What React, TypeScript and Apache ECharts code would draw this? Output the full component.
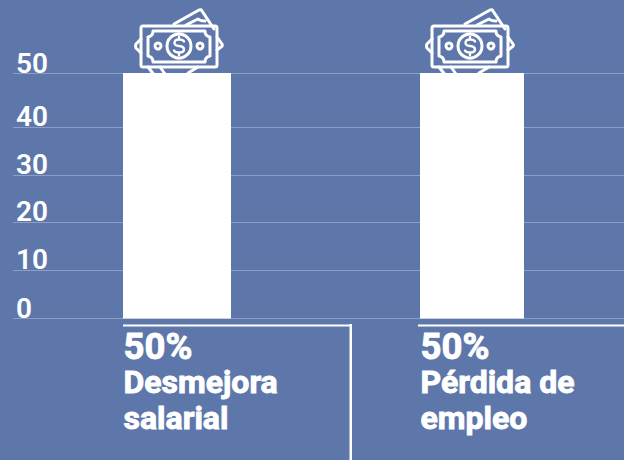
import React, { useEffect, useRef } from "react";
import * as echarts from "echarts";

const categories = ["Desmejora salarial", "Pérdida de empleo"];
const valuesA = [50, null];
const valuesB = [null, 50];
const tickLabels = [0, 10, 20, 30, 40, 50];
// the reference's gridlines are not evenly spaced: where each tick label sits on the 0-50 scale
const tickPlaces = [0, 9.8, 19.6, 29.2, 39, 50];
const labelLines = [
  ["50%", "Desmejora", "salarial"],
  ["50%", "Pérdida de", "empleo"],
];

const BG = "#5E77AA";
const WHITE = "#ffffff";

const backBills =
  "M174 24 L199 10 Q201 9 202 11 L214 29 M217 37 L222 44 Q223 46 221 47 L217 50 M141 39 L136 44 Q135 46 136 48 L141 53 M148 67 L155 76 M160 67 L165 74 M205 21 Q200 21 198 19 L186 25 M198 67 L188 73";
const frontBill = "M143 26 H215 Q217 26 217 28 V65 Q217 67 215 67 H143 Q141 67 141 65 V28 Q141 26 143 26 Z";
const innerFrame =
  "M153 31 H205 Q205 36 210 37 V56 Q205 57 205 62 H153 Q153 57 148 56 V37 Q153 36 153 31 Z";
const dollar =
  "M184 41.5 Q183 39.5 179 39.5 Q174.5 39.5 174.5 43 Q174.5 45.5 179 46 Q184 46.5 184 49.5 Q184 52.5 179 52.5 Q175 52.5 174 50.5 M179 37 V39.5 M179 52.5 V55";

echarts.graphic.registerShape("billBack", echarts.graphic.extendPath(backBills, {}) as any);
echarts.graphic.registerShape("billFront", echarts.graphic.extendPath(frontBill, {}) as any);
echarts.graphic.registerShape("billInner", echarts.graphic.extendPath(innerFrame, {}) as any);
echarts.graphic.registerShape("billDollar", echarts.graphic.extendPath(dollar, {}) as any);

function icon(dx: number) {
  const line = { fill: "none", stroke: WHITE, lineWidth: 3, lineJoin: "round", lineCap: "round" };
  return {
    type: "group",
    z: 1,
    children: [
      { type: "billBack", x: dx, y: 0, style: line },
      { type: "billFront", x: dx, y: 0, style: line },
      { type: "billInner", x: dx, y: 0, style: line },
      { type: "billDollar", x: dx, y: 0, style: { ...line, lineWidth: 2.4 } },
      { type: "circle", shape: { cx: 179 + dx, cy: 46, r: 12 }, style: line },
      { type: "circle", shape: { cx: 158 + dx, cy: 46, r: 3 }, style: line },
      { type: "circle", shape: { cx: 200 + dx, cy: 46, r: 3 }, style: line },
    ],
  };
}

function caption(x: number, lines: string[]) {
  return lines.map((t, i) => ({
    type: "text",
    x,
    y: i === 0 ? 327.5 : 329 + i * 36.5,
    style: {
      text: t,
      fill: WHITE,
      stroke: WHITE,
      lineWidth: 0.9,
      font: i === 0 ? "700 36.5px Roboto" : "700 32px Roboto",
    },
  }));
}

export default function App() {
  const ref = useRef<HTMLDivElement>(null);
  useEffect(() => {
    document.body.style.margin = "0";
    document.body.style.background = BG;
    const chart = echarts.init(ref.current!, undefined, { renderer: "svg" });
    chart.setOption({
      animation: false,
      backgroundColor: BG,
      grid: [
        { left: 13, right: 0, top: 73, height: 245, containLabel: false },
        { left: 26.5, width: 594, top: 73, height: 245.5, containLabel: false },
      ],
      xAxis: [
        { gridIndex: 0, type: "category", data: categories, show: false },
        { gridIndex: 1, type: "category", data: categories, show: false },
      ],
      yAxis: [
        {
          gridIndex: 0,
          type: "value",
          min: 0,
          max: 50,
          axisLine: { show: false },
          axisTick: { show: false, customValues: tickPlaces },
          splitLine: { show: true, lineStyle: { color: "#8D9FC6", width: 1 } },
          axisLabel: {
            inside: true,
            margin: 3,
            customValues: tickPlaces,
            align: "left",
            verticalAlign: "bottom",
            lineHeight: 20,
            color: WHITE,
            fontFamily: "Roboto",
            fontWeight: 600,
            fontSize: 28,
            formatter: (v: number) => String(tickLabels[tickPlaces.indexOf(v)]),
          },
        },
        { gridIndex: 1, type: "value", min: 0, max: 50, show: false, splitLine: { show: false } },
      ],
      series: [
        {
          type: "bar",
          xAxisIndex: 1,
          yAxisIndex: 1,
          data: valuesA,
          barWidth: 108,
          barGap: "-100%",
          itemStyle: { color: WHITE },
        },
        {
          type: "bar",
          xAxisIndex: 1,
          yAxisIndex: 1,
          data: valuesB,
          barWidth: 104,
          barGap: "-100%",
          itemStyle: { color: WHITE },
        },
      ],
      graphic: [
        icon(0),
        icon(291),
        { type: "rect", shape: { x: 123, y: 324.5, width: 228, height: 2 }, style: { fill: WHITE } },
        { type: "rect", shape: { x: 349.5, y: 324, width: 2.5, height: 136 }, style: { fill: WHITE } },
        { type: "rect", shape: { x: 418, y: 324.5, width: 206, height: 2 }, style: { fill: WHITE } },
        ...caption(123.5, labelLines[0]),
        ...caption(420.5, labelLines[1]),
      ],
    });
    return () => chart.dispose();
  }, []);
  return <div ref={ref} style={{ position: "absolute", left: 0, top: 0, width: 624, height: 460 }} />;
}
